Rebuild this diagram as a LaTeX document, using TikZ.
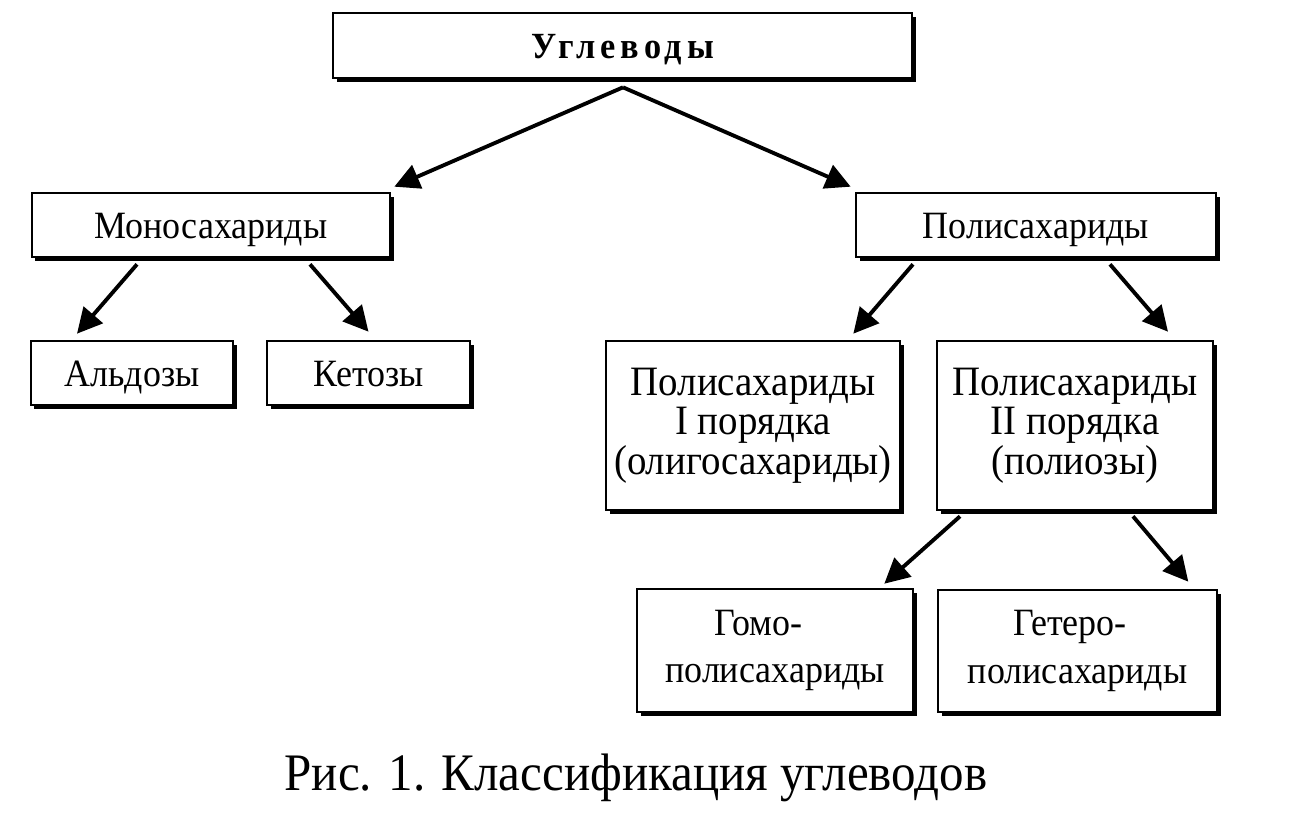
\documentclass[tikz,border=0pt]{standalone}
\usepackage{fontspec}
\setmainfont[FakeStretch=0.93]{Liberation Serif}
\usetikzlibrary{arrows.meta,shadows,calc}
\begin{document}
\begin{tikzpicture}[x=0.02cm,y=-0.02cm,
  box/.style={draw, line width=1.5pt, fill=white, inner sep=0pt, align=center,
    font=\fontsize{22}{23}\selectfont,
    drop shadow={shadow xshift=0.07cm, shadow yshift=-0.07cm, fill=black, opacity=1}},
  single/.style={text height=16pt, text depth=1pt},
  multi/.style={font=\fontsize{23.8}{22.4}\selectfont},
  arr/.style={line width=2.2pt, -{Triangle[length=0.5cm,width=0.5cm]}}]
\useasboundingbox[fill=white] (0,0) rectangle (1292,823);

\node[box, single, minimum width=579*0.02cm, minimum height=65*0.02cm,
  font=\fontsize{21}{22}\bfseries\addfontfeatures{LetterSpace=13}] (carb) at (622.5,45.5) {Углеводы};
\node[box, single, minimum width=358*0.02cm, minimum height=64*0.02cm] (mono) at (211,225) {Моносахариды};
\node[box, single, minimum width=360*0.02cm, minimum height=64*0.02cm] (poly) at (1036,225) {Полисахариды};
\node[box, single, minimum width=202*0.02cm, minimum height=64*0.02cm] (ald) at (132,373) {Альдозы};
\node[box, single, minimum width=203*0.02cm, minimum height=64*0.02cm] (ket) at (368.5,373) {Кетозы};
\node[box, multi, minimum width=294*0.02cm, minimum height=169*0.02cm] (p1) at (753,425.5) {Полисахариды\\I порядка\\(олигосахариды)};
\node[box, multi, minimum width=276*0.02cm, minimum height=169*0.02cm] (p2) at (1075,425.5) {Полисахариды\\II порядка\\(полиозы)};
\node[box, minimum width=276*0.02cm, minimum height=123*0.02cm, font=\fontsize{22}{27}\selectfont] (homo) at (775,650.5) {Гомо-\kern0.66cm\\полисахариды};
\node[box, minimum width=279*0.02cm, minimum height=122*0.02cm, font=\fontsize{22}{27}\selectfont] (hetero) at (1077.5,651) {Гетеро-\kern0.3cm\\полисахариды};

\node[anchor=base, inner sep=0pt, font=\fontsize{30}{32}\selectfont] (cap) at (636,790) {Рис. 1. Классификация углеводов};

\draw[arr] ($(carb.south)+(0.5,8)$) -- ($(mono.north east)+(3,-5)$);
\draw[arr] ($(carb.south)+(0.5,8)$) -- ($(poly.north west)+(-4,-5)$);
\draw[arr] ($(mono.south)+(-74,6)$) -- ($(ald.north)+(-55,-6)$);
\draw[arr] ($(mono.south)+(99,6)$) -- ($(ket.north)+(0,-8)$);
\draw[arr] ($(poly.south)+(-123,6)$) -- ($(p1.north east)+(-48,-6)$);
\draw[arr] ($(poly.south)+(74,6)$) -- ($(p2.north)+(93,-8)$);
\draw[arr] ($(p2.south)+(-115,5)$) -- ($(homo.north east)+(-30,-4)$);
\draw[arr] ($(p2.south)+(58,5)$) -- ($(hetero.north east)+(-30,-7)$);
\end{tikzpicture}
\end{document}
